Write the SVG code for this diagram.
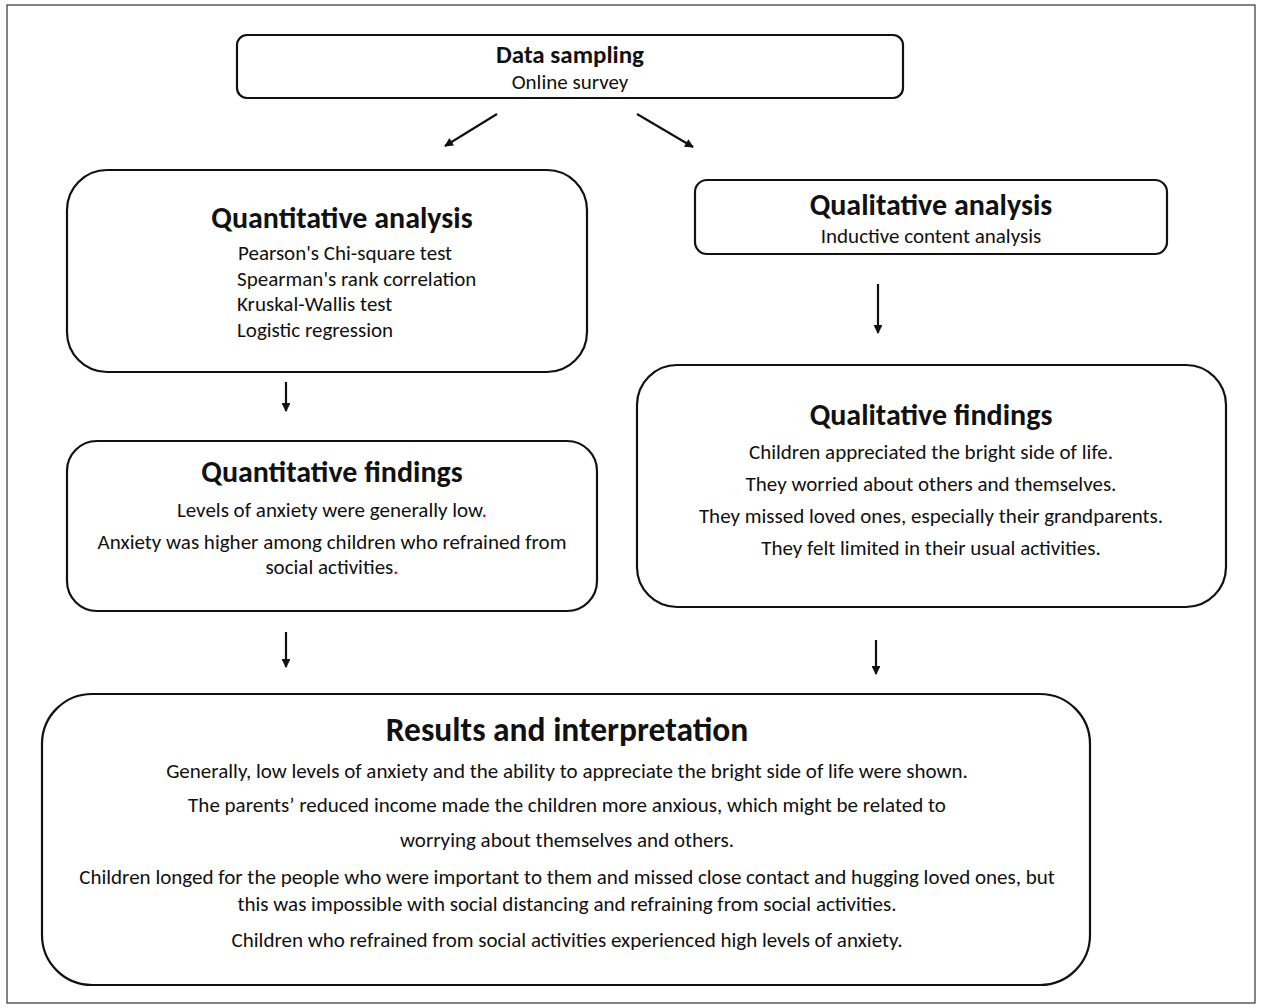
<svg xmlns="http://www.w3.org/2000/svg" width="1262" height="1008" viewBox="0 0 1262 1008">
<style>
.box{fill:#fff;stroke:#111;stroke-width:2.2}
text{font-family:Carlito,Lato,"Open Sans",sans-serif;fill:#111;text-anchor:middle}
.t{font-weight:bold;font-size:30px}
.s{font-size:21px}
.l{text-anchor:start}
.c{stroke:#111;stroke-width:2.2;fill:none;marker-end:url(#ah)}
.red{fill:#d00}
</style>
<defs>
<marker id="ah" viewBox="0 0 10 10" refX="9" refY="5" markerWidth="4.5" markerHeight="4" orient="auto" markerUnits="strokeWidth">
<path d="M0,0 L10,5 L0,10 z" fill="#111"/>
</marker>
</defs>
<rect x="0" y="0" width="1262" height="1008" fill="#fff"/>
<rect x="7" y="5" width="1248" height="998" fill="none" stroke="#333" stroke-width="1.2"/>
<g id="connectors">
<line class="c" x1="497" y1="114" x2="445" y2="146"/>
<line class="c" x1="637" y1="114" x2="693" y2="147"/>
<line class="c" x1="286" y1="382" x2="286" y2="411"/>
<line class="c" x1="878" y1="284" x2="878" y2="333"/>
<line class="c" x1="286" y1="632" x2="286" y2="667"/>
<line class="c" x1="876" y1="640" x2="876" y2="674"/>
</g>
<g id="data-sampling">
<rect class="box" x="237" y="35" width="666" height="63" rx="10"/>
<text x="570" y="63" style="font-weight:bold;font-size:25px">Data sampling</text>
<text class="s" x="570" y="89">Online survey</text>
</g>
<g id="quantitative-analysis">
<rect class="box" x="67" y="170" width="520" height="202" rx="40"/>
<text class="t" x="342" y="228">Quantitative analysis</text>
<text class="s l" x="238" y="260">Pearson's Chi-square test</text>
<text class="s l" x="237" y="286">Spearman's rank correlation</text>
<text class="s l" x="237" y="311">Kruskal-Wallis test</text>
<text class="s l" x="237" y="337">Logistic regression</text>
</g>
<g id="qualitative-analysis">
<rect class="box" x="695" y="180" width="472" height="74" rx="12"/>
<text class="t" x="931" y="215">Qualitative analysis</text>
<text class="s" x="931" y="243">Inductive content analysis</text>
</g>
<g id="quantitative-findings">
<rect class="box" x="67" y="441" width="530" height="170" rx="30"/>
<text class="t" x="332" y="482">Quantitative findings</text>
<text class="s" x="332" y="517">Levels of anxiety were generally low<tspan class="red">.</tspan></text>
<text class="s" x="332" y="549">Anxiety was higher among children who refrained from</text>
<text class="s" x="332" y="574">social activities<tspan class="red">.</tspan></text>
</g>
<g id="qualitative-findings">
<rect class="box" x="637" y="365" width="589" height="242" rx="40"/>
<text class="t" x="931" y="425">Qualitative findings</text>
<text class="s" x="931" y="459">Children appreciated the bright side of life.</text>
<text class="s" x="931" y="491">They worried about others and themselves.</text>
<text class="s" x="931" y="523">They missed loved ones, especially their grandparents.</text>
<text class="s" x="931" y="555">They felt limited in their usual activities.</text>
</g>
<g id="results">
<rect class="box" x="42" y="694" width="1048" height="291" rx="50"/>
<text x="567" y="741" style="font-weight:bold;font-size:33.5px">Results and interpretation</text>
<text class="s" x="567" y="778">Generally, low levels of anxiety and the ability to appreciate the bright side of life were shown.</text>
<text class="s" x="567" y="812">The parents’ reduced income made the children more anxious, which might be related to</text>
<text class="s" x="567" y="847">worrying about themselves and others.</text>
<text class="s" x="567" y="884">Children longed for the people who were important to them and missed close contact and hugging loved ones, but</text>
<text class="s" x="567" y="911">this was impossible with social distancing and refraining from social activities.</text>
<text class="s" x="567" y="947">Children who refrained from social activities experienced high levels of anxiety.</text>
</g>
</svg>
